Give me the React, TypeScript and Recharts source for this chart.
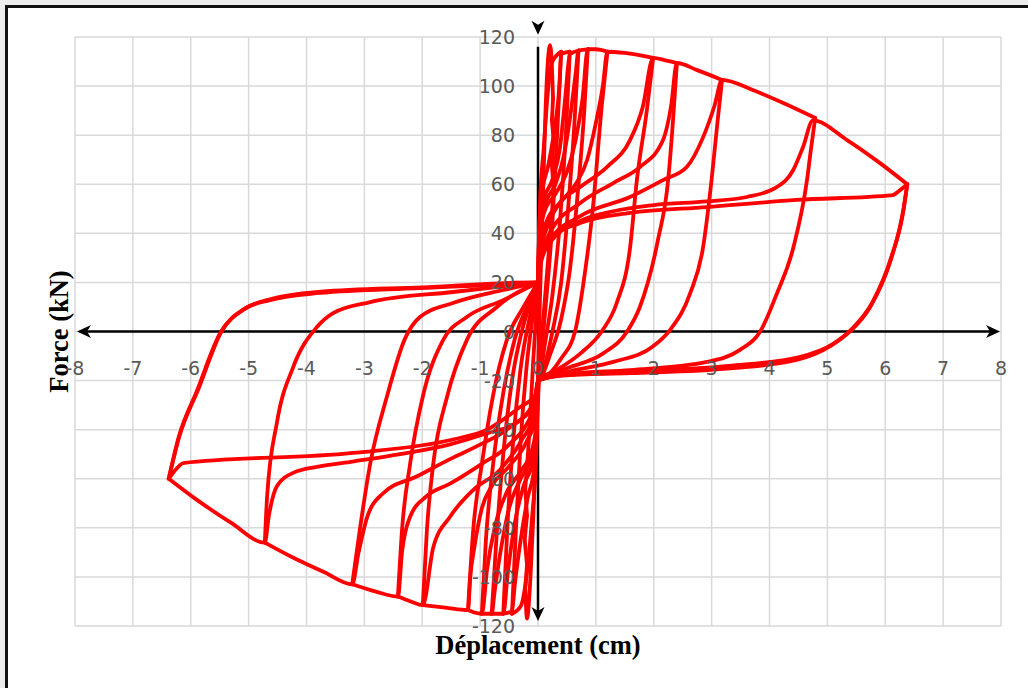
import React from "react";
import { LineChart, Line, XAxis, YAxis, CartesianGrid, ReferenceLine, Customized } from "recharts";

// axis ticks
const xTicks = [-8, -7, -6, -5, -4, -3, -2, -1, 0, 1, 2, 3, 4, 5, 6, 7, 8];
const yTicks = [-120, -100, -80, -60, -40, -20, 0, 20, 40, 60, 80, 100, 120];

// hysteresis loops, one per displacement level: [déplacement cm, force kN]
const loop1 = [[0, -20], [0.03, 10], [0.08, 50], [0.13, 90], [0.17, 110], [0.21, 116.7], [0.24, 108], [0.26, 95], [0.24, 86], [0.27, 78], [0.24, 68], [0.27, 58], [0.23, 45], [0.16, 25], [0.09, 5], [0.03, -12], [0, -20], [-0.03, -40], [-0.08, -75], [-0.13, -100], [-0.19, -117], [-0.22, -105], [-0.19, -95], [-0.23, -85], [-0.19, -75], [-0.22, -64], [-0.16, -45], [-0.09, -15], [-0.03, 8], [0, 20]];
const loop2 = [[0, 20], [0.03, 50], [0.1, 75], [0.18, 100], [0.25, 110], [0.4, 114], [0.33, 80], [0.25, 45], [0.15, 15], [0.05, -10], [0, -20], [-0.03, -50], [-0.1, -75], [-0.2, -100], [-0.3, -112], [-0.45, -115], [-0.38, -80], [-0.3, -45], [-0.2, -15], [-0.08, 8], [0, 20]];
const loop3 = [[0, 20], [0.02, 40], [0.06, 55], [0.18, 68], [0.3, 85], [0.37, 100], [0.4, 113], [0.55, 114], [0.48, 80], [0.38, 45], [0.25, 15], [0.12, -5], [0.03, -18], [0, -20], [-0.02, -40], [-0.06, -55], [-0.18, -68], [-0.3, -85], [-0.4, -103], [-0.45, -114], [-0.6, -115], [-0.53, -80], [-0.43, -45], [-0.3, -15], [-0.15, 5], [-0.02, 18], [0, 20]];
const loop4 = [[0, 20], [0.02, 40], [0.08, 52], [0.25, 62], [0.38, 75], [0.47, 95], [0.55, 113], [0.7, 114.5], [0.63, 85], [0.52, 50], [0.4, 20], [0.25, 0], [0.1, -15], [0.02, -20], [-0.02, -40], [-0.08, -52], [-0.25, -63], [-0.4, -78], [-0.52, -98], [-0.6, -115], [-0.8, -115], [-0.72, -85], [-0.6, -50], [-0.45, -20], [-0.28, 0], [-0.08, 15], [0, 20]];
const loop5 = [[0, 20], [0.03, 40], [0.1, 50], [0.3, 60], [0.45, 72], [0.57, 90], [0.65, 105], [0.7, 114.5], [0.86, 115], [0.8, 90], [0.7, 60], [0.55, 25], [0.4, 5], [0.2, -10], [0.05, -19], [0, -20], [-0.03, -40], [-0.1, -50], [-0.3, -60], [-0.5, -72], [-0.65, -90], [-0.75, -106], [-0.8, -115], [-0.97, -115], [-0.9, -85], [-0.78, -55], [-0.6, -25], [-0.4, -3], [-0.15, 12], [0, 20]];
const loop6 = [[0, 20], [0.03, 38], [0.1, 48], [0.3, 56], [0.5, 65], [0.65, 78], [0.77, 95], [0.86, 115], [1.0, 115], [1.2, 114], [1.1, 91.5], [0.95, 50.7], [0.81, 23.8], [0.64, 0], [0.4, -11], [0.1, -19], [0, -20], [-0.03, -38], [-0.1, -48], [-0.3, -57], [-0.55, -66], [-0.75, -80], [-0.88, -97], [-0.97, -115], [-1.1, -114.5], [-1.21, -113.5], [-1.12, -81], [-0.97, -54], [-0.78, -26.5], [-0.54, -3.5], [-0.25, 10], [0, 20]];
const loop7 = [[0, 20], [0.04, 35], [0.15, 45], [0.4, 53], [0.65, 60], [0.85, 70], [1.0, 85], [1.12, 100], [1.2, 114], [1.5, 113.5], [1.99, 111.5], [1.88, 90], [1.71, 62], [1.59, 34], [1.36, 11.6], [1.1, 0], [0.73, -9], [0.3, -16], [0, -20], [-0.04, -35], [-0.2, -45], [-0.5, -55], [-0.8, -63], [-0.97, -72], [-1.1, -88], [-1.17, -100], [-1.21, -113.5], [-1.6, -112.5], [-1.99, -111.5], [-1.92, -81], [-1.81, -54], [-1.57, -26.5], [-1.23, -3.5], [-0.71, 10], [0, 20]];
const loop8 = [[0, 20], [0.04, 32], [0.15, 42], [0.38, 52.4], [0.73, 58.9], [1.19, 67], [1.59, 78], [1.81, 91.5], [1.99, 111.5], [2.2, 110.5], [2.4, 109.4], [2.33, 85], [2.25, 62], [2.07, 37], [1.76, 10], [1.54, 0], [1.12, -9], [0.5, -15], [0, -20], [-0.05, -32], [-0.3, -45], [-0.66, -56.4], [-1.12, -64.6], [-1.52, -75.5], [-1.81, -88], [-1.99, -111.5], [-2.2, -110], [-2.42, -108], [-2.35, -81], [-2.21, -54], [-1.99, -26.5], [-1.64, -3.5], [-1.23, 5.9], [-0.6, 12.8], [0, 20]];
const loop9 = [[0, 20], [0.05, 30], [0.2, 40], [0.73, 52.4], [1.3, 60.5], [1.76, 67], [2.16, 78], [2.3, 92], [2.4, 109.4], [2.75, 106.5], [3.18, 102.5], [3.1, 85], [3.0, 62], [2.85, 34], [2.63, 15.6], [2.28, 0.6], [1.99, -6], [1.3, -12.4], [0.5, -16.5], [0, -20], [-0.05, -30], [-0.54, -47], [-0.95, -53.6], [-1.52, -62], [-1.92, -67], [-2.21, -75.5], [-2.35, -90], [-2.42, -108], [-2.8, -106], [-3.21, -103], [-3.08, -81], [-2.9, -54], [-2.61, -26.5], [-2.3, -3], [-2.04, 5.9], [-1.47, 11.6], [-0.6, 16.9], [0, 20]];
const loop10 = [[0, 20], [0.05, 29], [0.2, 37], [0.73, 47], [1.59, 54.8], [2.16, 61.7], [2.57, 67], [2.85, 79], [3.05, 92], [3.18, 102.5], [3.7, 98.5], [4.2, 93.5], [4.79, 87], [4.72, 75], [4.65, 62], [4.41, 34], [4.13, 15.6], [3.84, 0], [3.49, -7.5], [2.92, -12.4], [1.59, -15.7], [0.5, -17.5], [0, -20], [-0.05, -28], [-0.54, -40], [-0.95, -45.5], [-1.52, -52], [-2.09, -59], [-2.68, -66], [-2.95, -75.5], [-3.1, -90], [-3.21, -103], [-3.7, -98], [-4.2, -92.5], [-4.72, -86], [-4.68, -67], [-4.51, -37], [-4.23, -14.5], [-3.82, 1.8], [-3.54, 7.5], [-2.9, 12], [-1.47, 16.1], [0, 20]];
const loop11 = [[0, 20], [0.05, 28], [0.2, 36], [0.73, 45], [1.3, 49], [2.0, 51.5], [2.92, 53], [3.61, 54.8], [4.13, 58.9], [4.41, 65.8], [4.58, 75.2], [4.75, 86], [5.34, 78], [5.91, 68.6], [6.38, 60], [6.3, 48], [6.08, 28], [5.74, 10], [5.39, 0], [5.05, -6], [4.47, -11.6], [3.32, -15], [1.59, -17], [0.43, -18], [0, -20], [-0.05, -28], [-0.3, -36], [-0.95, -42], [-1.52, -46], [-2.38, -50], [-3.2, -53], [-3.77, -55], [-4.23, -57.6], [-4.51, -63], [-4.65, -75], [-4.72, -86], [-5.3, -78], [-5.9, -68.5], [-6.38, -60], [-6.22, -44], [-5.89, -24], [-5.49, -0.6], [-5.1, 8.8], [-4.63, 12.8], [-3.77, 15.7], [-2.04, 17.7], [-0.14, 19.8], [0, 20]];
const loop12 = [[0, 20], [0.05, 30], [0.16, 37.3], [0.73, 44.2], [1.59, 48.3], [2.92, 50.7], [4.47, 53.6], [6.13, 55.6], [6.25, 57.5], [6.38, 60], [6.32, 50], [6.1, 30], [5.78, 12], [5.42, 1], [5.1, -5], [4.5, -10.5], [3.3, -14], [1.6, -16.3], [0.5, -17.5], [0, -20], [-0.05, -26], [-0.31, -30.8], [-0.88, -40], [-1.47, -44], [-3.2, -49.5], [-6.13, -53.6], [-6.25, -56], [-6.38, -60], [-6.2, -43], [-5.86, -23], [-5.47, 0], [-5.05, 9.5], [-4.6, 13.3], [-3.75, 16.2], [-2, 18], [-0.1, 20], [0, 20]];

const loops = [loop1, loop2, loop3, loop4, loop5, loop6, loop7, loop8, loop9, loop10, loop11, loop12];

const W = 1028;
const H = 688;
const PLOT = { left: 75, right: 1001, top: 37, bottom: 626 };
const Y_AXIS_W = 60;
const X_AXIS_H = 30;
const ZERO_X = (PLOT.left + PLOT.right) / 2;
const ZERO_Y = (PLOT.top + PLOT.bottom) / 2;
const TICK_FONT = "'DejaVu Sans', sans-serif";
const RED = "#ff0000";

// cut a loop into branches wherever the displacement changes direction,
// so each branch can be drawn as a smooth monotone curve
const branches = (arr: number[][]) => {
  const out: { x: number; y: number }[][] = [];
  let cur = [{ x: arr[0][0], y: arr[0][1] }];
  let dir = 0;
  for (let i = 1; i < arr.length; i++) {
    const d = Math.sign(arr[i][0] - arr[i - 1][0]);
    if (d !== 0 && dir !== 0 && d !== dir) {
      out.push(cur);
      cur = [{ x: arr[i - 1][0], y: arr[i - 1][1] }];
    }
    if (d !== 0) dir = d;
    cur.push({ x: arr[i][0], y: arr[i][1] });
  }
  out.push(cur);
  return out;
};

const series = loops.flatMap((l) => branches(l));

const XTick = ({ x, payload }: any) => (
  <text x={x} y={ZERO_Y + 43} textAnchor="middle" fill="#595959" fontSize={19} fontFamily={TICK_FONT}>
    {payload.value}
  </text>
);

const YTick = ({ y, payload }: any) => (
  <text x={ZERO_X - 23} y={y + 7} textAnchor="end" fill="#595959" fontSize={19} fontFamily={TICK_FONT}>
    {payload.value}
  </text>
);

const arrowHead = (tx: number, ty: number, dx: number, dy: number) => {
  const L = 14, Wd = 6.5, N = 10;
  const px = -dy, py = dx;
  const bx = tx - dx * L, by = ty - dy * L;
  const nx = tx - dx * N, ny = ty - dy * N;
  return (
    <path
      d={`M${tx},${ty} L${bx + px * Wd},${by + py * Wd} L${nx},${ny} L${bx - px * Wd},${by - py * Wd} Z`}
      fill="#000"
    />
  );
};

const HAxis = (p: any) => {
  const xa = Math.min(p.x1, p.x2) + 2;
  const xb = Math.max(p.x1, p.x2) - 1;
  const y = p.y1;
  return (
    <g>
      <line x1={xa + 6} y1={y} x2={xb - 6} y2={y} stroke="#000" strokeWidth={2.5} />
      {arrowHead(xa, y, -1, 0)}
      {arrowHead(xb, y, 1, 0)}
    </g>
  );
};

const VAxis = (p: any) => {
  const top = Math.min(p.y1, p.y2);
  const bot = Math.max(p.y1, p.y2);
  const x = p.x1;
  return (
    <g>
      <line x1={x} y1={top} x2={x} y2={bot - 8} stroke="#000" strokeWidth={2.5} />
      {arrowHead(x, bot, 0, 1)}
      {arrowHead(x, top - 12, 0, 1)}
    </g>
  );
};

const Titles = () => (
  <g fontFamily="'Liberation Serif', 'Times New Roman', serif" fontWeight="bold" fontSize={26.5} fill="#000">
    <text x={ZERO_X} y={654} textAnchor="middle">Déplacement (cm)</text>
    <text x={68} y={ZERO_Y} textAnchor="middle" transform={`rotate(-90 68 ${ZERO_Y})`}>Force (kN)</text>
  </g>
);

export default function App() {
  return (
    <div style={{ position: "absolute", left: 0, top: 0, width: W, height: H, background: "#ececec", overflow: "hidden" }}>
      <div
        style={{
          position: "absolute",
          left: 5,
          top: 5,
          width: W + 20,
          height: H + 20,
          background: "#fff",
          borderLeft: "3px solid #111",
          borderTop: "3px solid #111",
        }}
      />
      <div style={{ position: "absolute", left: 0, top: 0 }}>
        <LineChart
          width={W}
          height={H}
          margin={{
            top: PLOT.top,
            left: PLOT.left - Y_AXIS_W,
            right: W - PLOT.right,
            bottom: H - PLOT.bottom - X_AXIS_H,
          }}
        >
          <CartesianGrid stroke="#d9d9d9" strokeWidth={1.5} />
          <XAxis
            type="number"
            dataKey="x"
            domain={[-8, 8]}
            ticks={xTicks}
            interval={0}
            allowDataOverflow
            height={X_AXIS_H}
            axisLine={false}
            tickLine={false}
            tick={XTick}
          />
          <YAxis
            type="number"
            dataKey="y"
            domain={[-120, 120]}
            ticks={yTicks}
            interval={0}
            allowDataOverflow
            width={Y_AXIS_W}
            axisLine={false}
            tickLine={false}
            tick={YTick}
          />
          <ReferenceLine y={0} stroke="#000" shape={HAxis} />
          <ReferenceLine segment={[{ x: 0, y: 116 }, { x: 0, y: -118 }]} stroke="#000" shape={VAxis} ifOverflow="visible" />
          {series.map((pts, i) => (
            <Line
              key={i}
              data={pts}
              dataKey="y"
              type="monotone"
              stroke={RED}
              strokeWidth={3.8}
              strokeLinejoin="round"
              strokeLinecap="round"
              dot={false}
              activeDot={false}
              isAnimationActive={false}
            />
          ))}
          <Customized component={Titles} />
        </LineChart>
      </div>
    </div>
  );
}
